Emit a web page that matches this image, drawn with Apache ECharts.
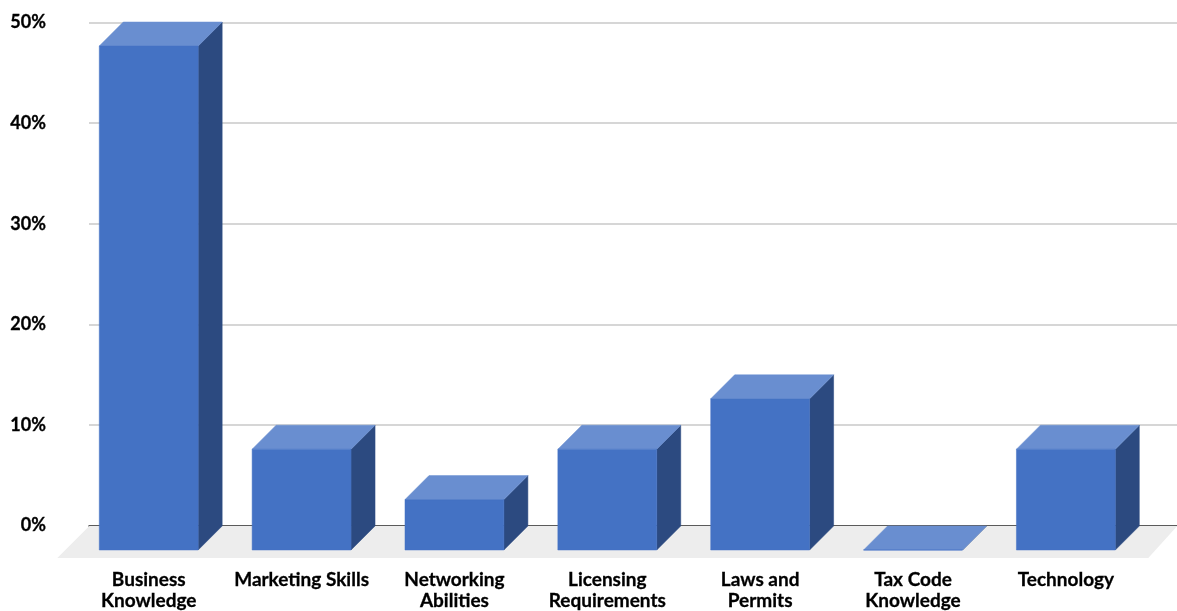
<!DOCTYPE html>
<html><head><meta charset="utf-8">
<style>html,body{margin:0;padding:0;background:#fff}#c{width:1177px;height:611px}</style>
<script src="https://cdn.jsdelivr.net/npm/echarts@6/dist/echarts.min.js"></script>
</head><body><div id="c"></div>
<script>
const categories = ['Business\nKnowledge','Marketing Skills','Networking\nAbilities','Licensing\nRequirements','Laws and\nPermits','Tax Code\nKnowledge','Technology'];
const values = [50,10,5,10,15,0,10];
const yTicks = [0,10,20,30,40,50];
const FRONT='#4472C4', TOP='#698ED0', SIDE='#2C4A80', FLOOR='#EDEDED';
const DEPTH=24, BAR_RATIO=0.647;
const FONT='Lato, "Open Sans", sans-serif';

function renderBar(params, api){
  const i=api.value(0), v=api.value(1);
  const w=api.size([1,0])[0]*BAR_RATIO;
  const t=api.coord([i,v]), b=api.coord([i,0]);
  const x0=t[0]-w/2, x1=t[0]+w/2, yt=t[1], yb=b[1], d=DEPTH;
  const poly=(pts,fill)=>({type:'polygon',shape:{points:pts},style:{fill:fill,stroke:fill,lineWidth:0.5}});
  return {type:'group',children:[
    poly([[x1,yt],[x1+d,yt-d],[x1+d,yb-d],[x1,yb]],SIDE),
    poly([[x0,yt],[x1,yt],[x1+d,yt-d],[x0+d,yt-d]],TOP),
    poly([[x0,yt],[x1,yt],[x1,yb],[x0,yb]],FRONT)
  ]};
}
function renderFloor(params, api){
  const cs=params.coordSys;
  const yb=cs.y+cs.height;
  return {type:'polygon',shape:{points:[
    [cs.x+17,yb-24],[cs.x+cs.width+35,yb-24],[cs.x+cs.width+6,yb+8],[cs.x-15,yb+8]
  ]},style:{fill:FLOOR}};
}
const chart=echarts.init(document.getElementById('c'),null,{renderer:'canvas'});
chart.setOption({
  animation:false,
  backgroundColor:'#fff',
  grid:[
    {left:89,right:0,top:22.5,height:503},
    {left:72.3,width:1070,top:46,height:504}
  ],
  xAxis:[
    {gridIndex:0,type:'value',min:0,max:1,splitLine:{show:false},axisTick:{show:false},axisLabel:{show:false},
     axisLine:{show:true,onZero:true,lineStyle:{color:'#333',width:1.5}}},
    {gridIndex:1,type:'category',data:categories,axisLine:{show:false},axisTick:{show:false},
     axisLabel:{interval:0,margin:19,color:'#000',fontFamily:FONT,fontWeight:'bold',fontSize:19,lineHeight:21,
       textBorderColor:'#000',textBorderWidth:0.3}}
  ],
  yAxis:[
    {gridIndex:0,type:'value',min:0,max:50,interval:10,axisLine:{show:false},axisTick:{show:false},
     splitLine:{lineStyle:{color:'#c9c9c9',width:1.5}},
     axisLabel:{margin:43,color:'#000',fontFamily:FONT,fontWeight:'bold',fontSize:18,formatter:'{value}%',
       textBorderColor:'#000',textBorderWidth:0.3,customValues:yTicks}},
    {gridIndex:1,type:'value',min:0,max:50,interval:10,show:false}
  ],
  series:[
    {type:'custom',xAxisIndex:1,yAxisIndex:1,z:1,silent:true,renderItem:renderFloor,data:[[0,0]]},
    {type:'custom',xAxisIndex:1,yAxisIndex:1,z:3,silent:true,renderItem:renderBar,
     encode:{x:0,y:1},data:values.map((v,i)=>[i,v])}
  ]
});
</script></body></html>
